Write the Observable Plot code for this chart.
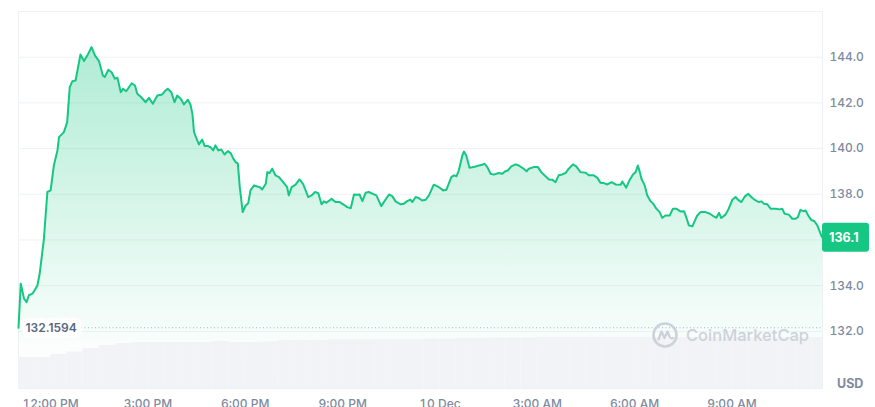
<!DOCTYPE html>
<html>
<head>
<meta charset="utf-8">
<script src="https://cdn.jsdelivr.net/npm/d3@7"></script>
<script src="https://cdn.jsdelivr.net/npm/@observablehq/plot@0.6"></script>
<style>
  html, body { margin: 0; padding: 0; background: #fff; overflow: hidden; }
  #chart svg { display: block; }
</style>
</head>
<body>
<div id="chart"></div>
<script>
// Hours since 9 Dec 00:00 (values > 24 fall on 10 Dec)
const hours = [11.01,11.08,11.18,11.26,11.33,11.44,11.59,11.66,11.79,11.90,12.00,12.10,12.21,12.26,12.41,12.51,12.59,12.67,12.77,12.92,13.03,13.13,13.26,13.37,13.49,13.61,13.67,13.78,13.88,13.98,14.06,14.16,14.23,14.33,14.50,14.60,14.67,14.77,14.93,15.03,15.15,15.29,15.44,15.54,15.61,15.72,15.82,15.90,16.01,16.11,16.23,16.31,16.37,16.42,16.50,16.57,16.67,16.75,16.85,16.93,17.01,17.08,17.17,17.26,17.36,17.46,17.55,17.63,17.70,17.77,17.83,17.92,18.01,18.09,18.16,18.27,18.37,18.45,18.52,18.63,18.68,18.75,18.83,18.93,19.04,19.14,19.21,19.29,19.34,19.43,19.55,19.67,19.78,19.86,19.94,20.04,20.15,20.25,20.35,20.42,20.50,20.66,20.78,20.91,21.04,21.14,21.25,21.35,21.45,21.52,21.61,21.71,21.81,21.93,22.04,22.19,22.29,22.43,22.53,22.63,22.79,22.89,22.99,23.09,23.15,23.25,23.35,23.45,23.56,23.66,23.81,23.97,24.10,24.20,24.27,24.35,24.43,24.51,24.58,24.69,24.74,24.81,24.91,25.04,25.20,25.30,25.37,25.46,25.56,25.66,25.81,25.92,26.00,26.09,26.20,26.33,26.43,26.54,26.67,26.74,26.89,27.02,27.12,27.22,27.36,27.46,27.56,27.66,27.77,27.87,27.97,28.10,28.20,28.33,28.49,28.59,28.74,28.85,28.95,29.05,29.16,29.29,29.41,29.57,29.62,29.74,29.84,29.95,30.03,30.10,30.16,30.21,30.31,30.39,30.49,30.57,30.67,30.77,30.85,30.95,31.08,31.18,31.28,31.41,31.52,31.59,31.67,31.78,31.86,31.93,32.03,32.19,32.32,32.44,32.52,32.60,32.67,32.80,32.90,33.01,33.11,33.21,33.29,33.40,33.50,33.62,33.73,33.83,33.91,33.98,34.09,34.19,34.34,34.47,34.55,34.62,34.75,34.86,34.96,35.03,35.11,35.20,35.27,35.35,35.44,35.54,35.63,35.75,35.79];

const prices = [132.16,134.09,133.43,133.28,133.58,133.65,134.0,134.5,136.0,138.1,138.17,139.26,139.92,140.5,140.72,141.16,142.69,142.95,142.98,144.12,143.83,144.07,144.44,144.07,143.83,143.2,143.13,143.45,143.34,143.06,143.1,142.47,142.62,142.51,142.86,142.76,142.4,142.28,142.03,142.22,141.96,142.32,142.37,142.54,142.62,142.47,142.03,142.32,142.18,141.93,142.14,141.93,141.52,140.72,140.43,140.18,140.39,140.11,140.11,140.06,139.92,140.14,139.92,139.96,139.74,139.89,139.8,139.56,139.41,139.34,138.31,137.22,137.51,137.61,138.17,138.39,138.34,138.31,138.21,138.46,138.97,138.93,139.12,138.83,138.75,138.58,138.46,138.31,137.95,138.31,138.42,138.65,138.46,138.17,137.88,137.95,138.1,138.05,137.56,137.69,137.63,137.8,137.66,137.66,137.54,137.44,137.39,137.99,137.98,137.99,137.7,138.07,138.1,138.02,137.95,137.48,137.7,137.99,137.92,137.69,137.56,137.59,137.7,137.77,137.66,137.88,137.83,137.73,137.76,137.95,138.42,138.31,138.17,138.2,138.46,138.75,138.83,138.79,139.04,139.7,139.87,139.7,139.16,139.19,139.26,139.29,139.34,139.19,138.9,138.86,138.93,138.9,139.0,139.04,139.22,139.31,139.26,139.16,139.01,139.12,139.19,139.19,138.97,138.83,138.65,138.64,138.53,138.83,138.87,138.93,139.12,139.31,139.22,138.97,138.94,138.83,138.83,138.72,138.5,138.49,138.43,138.53,138.43,138.42,138.56,138.29,138.61,138.87,138.97,139.26,138.97,138.68,138.39,137.95,137.7,137.59,137.37,137.22,136.97,137.07,137.07,137.37,137.37,137.25,137.26,137.0,136.64,136.6,136.86,137.07,137.22,137.22,137.15,137.03,136.97,137.19,136.96,137.11,137.37,137.76,137.88,137.73,137.66,137.91,138.02,137.85,137.73,137.66,137.69,137.59,137.56,137.37,137.37,137.34,137.37,137.15,137.11,136.93,136.93,137.0,137.32,137.26,137.29,137.07,136.88,136.82,136.64,136.2,136.1];

// Half-hourly volume bars (start hour, relative volume)
const volHours = [11,11.5,12,12.5,13,13.5,14,14.5,15,15.5,16,16.5,17,17.5,18,18.5,19,19.5,20,20.5,21,21.5,22,22.5,23,23.5,24,24.5,25,25.5,26,26.5,27,27.5,28,28.5,29,29.5,30,30.5,31,31.5,32,32.5,33,33.5,34,34.5,35,35.5];
const volumes = [310,310,340,365,400,430,450,460,460,460,460,460,470,460,460,465,480,480,480,485,485,485,490,490,490,495,495,500,500,505,505,505,510,510,510,510,510,510,510,510,510,510,510,510,510,510,510,510,510,510];

const yTicks = [132,134,136,138,140,142,144];
const yTickLabelsShown = [132,134,138,140,142,144]; // 136.0 sits under the last-price badge
const xTickHours = [12,15,18,21,24,27,30,33];
const xTickLabels = ["12:00 PM","3:00 PM","6:00 PM","9:00 PM","10 Dec","3:00 AM","6:00 AM","9:00 AM"];
const openPrice = 132.1594;
const lastPrice = 136.1;
const yDomain = [129.5, 146];
const volMax = 600;        // volume that fills the volume band
const volBand = 2.625;     // height of the volume band in price units

if (hours.length !== prices.length) throw new Error("length mismatch " + hours.length + " vs " + prices.length);

const base = Date.UTC(2024, 11, 9);
const toDate = h => new Date(base + h * 3600e3);
const data = hours.map((h, i) => ({t: toDate(h), price: prices[i]}));
const vol = volHours.map((h, i) => ({t1: toDate(h), t2: toDate(h + 0.5), v: volumes[i]}));
const xDomain = [toDate(hours[0]), toDate(hours[hours.length - 1])];
const yMin = yDomain[0];

const green = "#16c784";
const grey = "#808a9d";
const grid = "#eff2f5";

const plot = Plot.plot({
  width: 875,
  height: 407,
  marginTop: 11,
  marginBottom: 19,
  marginLeft: 18,
  marginRight: 53,
  x: {type: "utc", domain: xDomain, label: null},
  y: {domain: yDomain, label: null},
  style: {fontFamily: "Inter, 'Noto Sans', sans-serif", fontSize: "12px", color: grey, background: "#fff", overflow: "hidden"},
  marks: [
    Plot.gridY(yTicks, {stroke: grid, strokeOpacity: 1}),
    Plot.frame({stroke: grid, strokeOpacity: 1}),
    Plot.areaY(data, {x: "t", y1: yMin, y2: "price", fill: "url(#cmcGrad)"}),
    Plot.rectY(vol, {x1: "t1", x2: "t2", y1: yMin, y2: d => yMin + d.v / volMax * volBand, fill: "#f1f3f6", clip: true}),
    Plot.ruleY([openPrice], {stroke: "#a6b0c3", strokeDasharray: "1,2.5", strokeWidth: 1}),
    Plot.text([openPrice], {x: () => xDomain[0], y: d => d, text: d => String(d), textAnchor: "start", dx: 7,
      fill: "#58667e", fontWeight: 600, fontSize: 12, stroke: "#fff", strokeWidth: 11}),
    Plot.lineY(data, {x: "t", y: "price", stroke: green, strokeWidth: 2, strokeLinejoin: "round"}),
    Plot.axisX(xTickHours.map(toDate), {tickSize: 0, tickPadding: 11, fill: grey, fontWeight: 500, label: null,
      tickFormat: d => xTickLabels[xTickHours.indexOf(Math.round((d - base) / 3600e3))]}),
    Plot.axisY(yTickLabelsShown, {anchor: "right", tickSize: 0, tickPadding: 7, fill: grey, fontWeight: 500, label: null,
      tickFormat: d => d.toFixed(1)})
  ]
});

document.getElementById("chart").append(plot);

const svg = d3.select(plot);
const xs = plot.scale("x"), ys = plot.scale("y");
const xRight = xs.range[1];

// gradient for the area
const defs = svg.insert("defs", ":first-child");
const grad = defs.append("linearGradient").attr("id", "cmcGrad").attr("x1", 0).attr("x2", 0).attr("y1", 0).attr("y2", 1);
grad.append("stop").attr("offset", "0%").attr("stop-color", green).attr("stop-opacity", 0.34);
grad.append("stop").attr("offset", "55%").attr("stop-color", green).attr("stop-opacity", 0.14);
grad.append("stop").attr("offset", "88%").attr("stop-color", green).attr("stop-opacity", 0.02);
grad.append("stop").attr("offset", "100%").attr("stop-color", green).attr("stop-opacity", 0);

// watermark
const wm = svg.append("g").attr("transform", `translate(${xRight - 157},${ys.apply(yMin) - 53})`);
wm.append("circle").attr("cx", 0).attr("cy", 0).attr("r", 11.5).attr("fill", "none").attr("stroke", "#cdd2da").attr("stroke-width", 2.6);
wm.append("path").attr("d", "M-6.5,4.5 L-3.5,-3.5 L-0.5,3 L2.5,-3.5 L4.5,1.5 Q6,4 8,3")
  .attr("fill", "none").attr("stroke", "#cdd2da").attr("stroke-width", 2.4).attr("stroke-linejoin", "round").attr("stroke-linecap", "round");
wm.append("text").attr("x", 21).attr("y", 0).attr("dy", "0.35em").attr("fill", "#cdd2da").attr("text-anchor", "start")
  .attr("font-size", 16.5).attr("font-weight", 500).attr("font-family", "Inter, sans-serif").text("CoinMarketCap");

// last price badge
const yl = ys.apply(lastPrice);
svg.append("rect").attr("x", xRight).attr("y", yl - 14.5).attr("width", 47).attr("height", 29).attr("rx", 3).attr("fill", green);
svg.append("text").attr("x", xRight + 7).attr("y", yl).attr("dy", "0.35em").attr("fill", "#fff").attr("text-anchor", "start")
  .attr("font-size", 12.5).attr("font-weight", 700).attr("font-family", "Inter, sans-serif").text(String(lastPrice));

// currency label
svg.append("text").attr("x", xRight + 15).attr("y", ys.apply(yMin) - 4).attr("dy", "0.35em").attr("fill", grey).attr("text-anchor", "start")
  .attr("font-size", 12.5).attr("font-weight", 700).attr("font-family", "Inter, sans-serif").text("USD");
</script>
</body>
</html>
